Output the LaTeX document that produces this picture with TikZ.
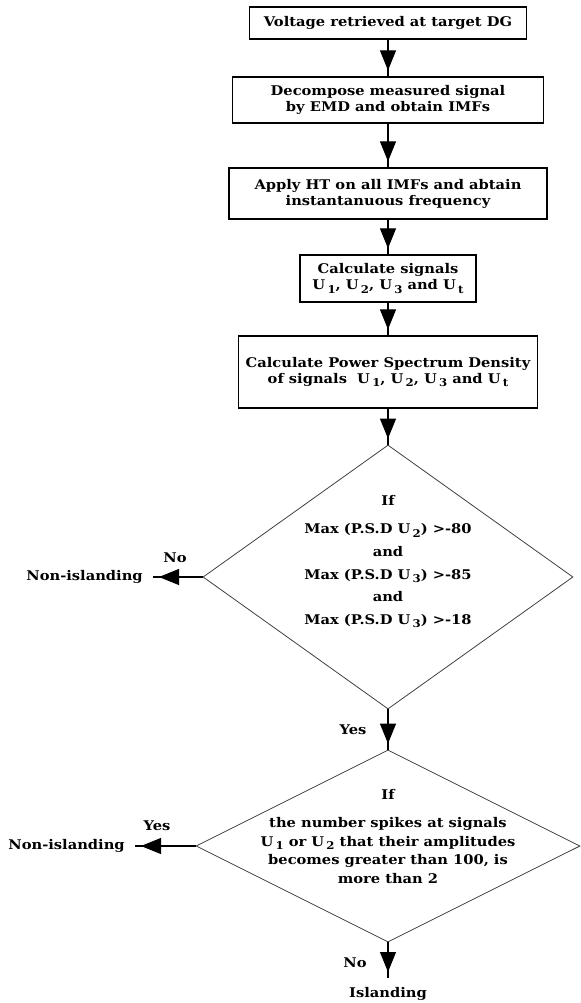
\documentclass[tikz,border=0pt]{standalone}
\usepackage{fontspec}
\setmainfont{DejaVu Serif}[FakeStretch=1.1]
\usetikzlibrary{shapes.geometric}
\usetikzlibrary{arrows.meta}
\usetikzlibrary{decorations.markings}
\newcommand{\usig}[1]{U\,\raisebox{-2.5pt}{\fontsize{8}{8}\selectfont #1}}

\begin{document}
\begin{tikzpicture}[x=0.75pt,y=-0.75pt,
  font=\fontsize{10}{12}\selectfont\bfseries,
  stepbox/.style={rectangle,draw=black,line width=0.9pt,align=center,inner sep=0pt},
  decision/.style={diamond,draw=black!75,line width=0.6pt,inner sep=0pt},
  flow/.style={draw=black,line width=0.8pt,postaction={decorate},
    decoration={markings,mark=at position -4.5pt with {\arrow{Triangle[length=15pt,width=12pt]}}}},
  answer/.style={inner xsep=7.5pt,inner ysep=7pt},
  tag/.style={inner sep=0pt}]
\useasboundingbox (0,0) rectangle (581,1003);

\node[stepbox,minimum width=207.75pt,minimum height=24pt] (retrieve) at (388,23) {Voltage retrieved at target DG};
\node[stepbox,minimum width=233.25pt,minimum height=34.5pt] (emd) at (388,100) {Decompose measured signal\\by EMD and obtain IMFs};
\node[stepbox,minimum width=238.5pt,minimum height=38.25pt] (hilbert) at (388,193.5) {Apply HT on all IMFs and abtain\\instantanuous frequency};
\node[stepbox,minimum width=132pt,minimum height=35.25pt] (signals) at (388,278.5) {Calculate signals\\\usig{1}, \usig{2}, \usig{3} and \usig{t}};
\node[stepbox,minimum width=224.25pt,minimum height=54pt] (psd) at (388,372) {Calculate Power Spectrum Density\\of signals \ \usig{1}, \usig{2}, \usig{3} and \usig{t}};

\node[decision,minimum width=277.5pt,minimum height=198pt] (psdtest) at (388,577) {};
\node[tag,align=center,font=\fontsize{10}{17}\selectfont\bfseries] (psdtext) at (388,562) {If\\[4pt]Max (P.S.D \usig{2}) >-80\\and\\Max (P.S.D \usig{3}) >-85\\and\\Max (P.S.D \usig{3}) >-18};

\node[decision,minimum width=288pt,minimum height=144pt] (spiketest) at (388,846) {};
\node[tag,align=center,font=\fontsize{10}{14}\selectfont\bfseries] (spiketext) at (388,836.5) {If\\[7pt]the number spikes at signals\\\usig{1} or \usig{2} that their amplitudes\\becomes greater than 100, is\\more than 2};

\node[answer,anchor=east] (nonisl1) at (153,577) {Non-islanding};
\node[answer,anchor=east] (nonisl2) at (135,846) {Non-islanding};
\node[answer,anchor=north] (isl) at (388,978) {Islanding};

\node[tag] (no1) at (175,558) {No};
\node[tag] (yes1) at (353,730) {Yes};
\node[tag] (yes2) at (157,826) {Yes};
\node[tag] (no2) at (355,963) {No};

\draw[flow] (retrieve) -- (emd);
\draw[flow] (emd) -- (hilbert);
\draw[flow] (hilbert) -- (signals);
\draw[flow] (signals) -- (psd);
\draw[flow] (psd) -- (psdtest);
\draw[flow] (psdtest) -- (nonisl1);
\draw[flow] (psdtest) -- (spiketest);
\draw[flow] (spiketest) -- (nonisl2);
\draw[flow] (spiketest) -- (isl);

\end{tikzpicture}
\end{document}
